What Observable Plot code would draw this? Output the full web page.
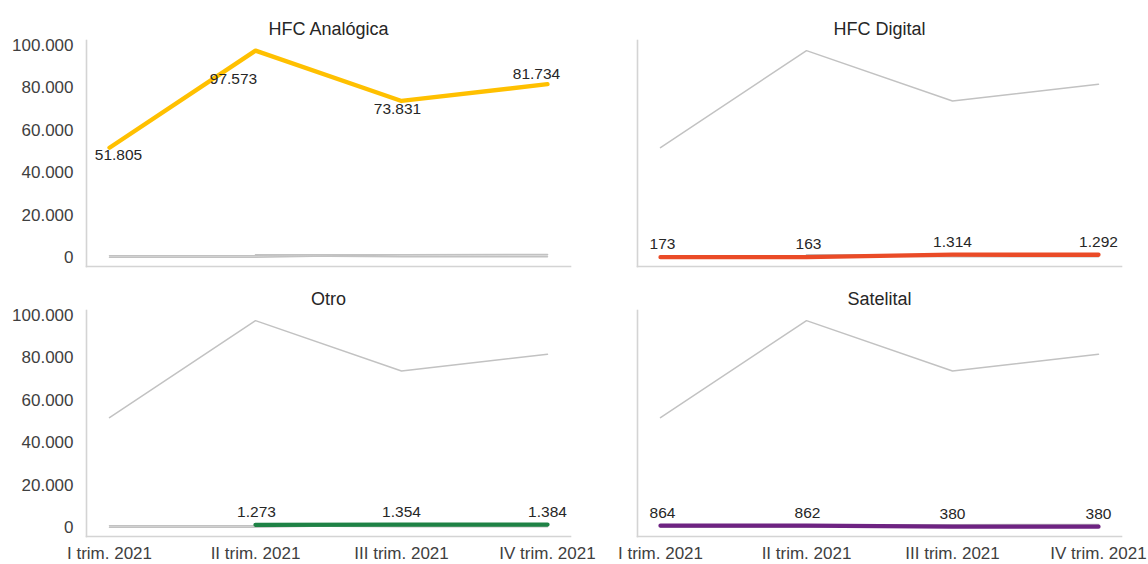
<!DOCTYPE html>
<html>
<head>
<meta charset="utf-8">
<script src="https://cdn.jsdelivr.net/npm/d3@7"></script>
<script src="https://cdn.jsdelivr.net/npm/@observablehq/plot@0.6"></script>
<style>
  html, body { margin: 0; padding: 0; background: #fff; }
  #chart { position: relative; width: 1148px; height: 564px; overflow: hidden; font-family: "Liberation Sans", Arial, sans-serif; }
  .panel { position: absolute; }
</style>
</head>
<body>
<div id="chart"></div>
<script>
// ---- Data ----
const quarters = ["I trim. 2021", "II trim. 2021", "III trim. 2021", "IV trim. 2021"];
const seriesNames = ["HFC Analógica", "HFC Digital", "Otro", "Satelital"];
const hfcAnalogica = [51805, 97573, 73831, 81734];
const hfcDigital = [173, 163, 1314, 1292];
const otro = [null, 1273, 1354, 1384];
const satelital = [864, 862, 380, 380];
const yTicks = [0, 20000, 40000, 60000, 80000, 100000];

const seriesValues = {
  "HFC Analógica": hfcAnalogica,
  "HFC Digital": hfcDigital,
  "Otro": otro,
  "Satelital": satelital
};

const rows = seriesNames.flatMap(s =>
  quarters.map((q, i) => ({series: s, quarter: q, value: seriesValues[s][i]}))
          .filter(d => d.value != null)
);

const locale = d3.formatLocale({decimal: ",", thousands: ".", grouping: [3], currency: ["", "€"]});
const fmt = locale.format(",d");

// ---- Styling / layout ----
const colors = {
  "HFC Analógica": "#FFC000",
  "HFC Digital": "#EA4B27",
  "Otro": "#1E8245",
  "Satelital": "#6E2382"
};
// label offsets (dx, dy) relative to each point
const labelOffsets = {
  "HFC Analógica": [[9, 7], [-22, 28], [-4, 8], [-11, -10]],
  "HFC Digital": [[2, -13], [2, -13], [0, -13], [0, -13]],
  "Otro": [[0, -13], [1, -13], [0, -13], [0, -13]],
  "Satelital": [[2, -13], [1, -13], [0, -13], [0, -13]]
};

const panels = [
  {name: "HFC Analógica", left: 0,   top: 0,   width: 600, height: 270, ml: 86, mr: 30, showY: true,  showX: false},
  {name: "HFC Digital",   left: 560, top: 0,   width: 588, height: 270, ml: 77, mr: 27, showY: false, showX: false},
  {name: "Otro",          left: 0,   top: 270, width: 600, height: 294, ml: 86, mr: 30, showY: true,  showX: true},
  {name: "Satelital",     left: 560, top: 270, width: 588, height: 294, ml: 77, mr: 27, showY: false, showX: true}
];

const chart = document.getElementById("chart");

for (const p of panels) {
  const own = rows.filter(d => d.series === p.name);
  const others = rows.filter(d => d.series !== p.name);
  const offs = labelOffsets[p.name];
  const labelMarks = own.map(d => {
    const i = quarters.indexOf(d.quarter);
    return Plot.text([d], {
      x: "quarter", y: "value", text: d => fmt(d.value),
      dx: offs[i][0], dy: offs[i][1],
      fontSize: 15.5, fill: "#262626"
    });
  });
  const svg = Plot.plot({
    width: p.width,
    height: p.height,
    marginTop: 40,
    marginBottom: p.showX ? 28 : 4,
    marginLeft: p.ml,
    marginRight: p.mr,
    style: {fontFamily: "'Liberation Sans', Arial, sans-serif", fontSize: "17px", color: "#404040", background: "transparent", overflow: "visible"},
    x: {type: "point", domain: quarters, padding: 0.15, axis: p.showX ? "bottom" : null, tickSize: 0, tickPadding: 10.5, label: null},
    y: {domain: [0, 100000], insetTop: 5, insetBottom: 9, ticks: yTicks, tickFormat: fmt, axis: p.showY ? "left" : null, tickSize: 0, tickPadding: 13, label: null},
    marks: [
      Plot.frame({anchor: "left", stroke: "#d4d4d4", strokeWidth: 1.6}),
      Plot.frame({anchor: "bottom", stroke: "#d4d4d4", strokeWidth: 1.6}),
      Plot.line(others, {x: "quarter", y: "value", z: "series", stroke: "#c2c2c2", strokeWidth: 1.5}),
      Plot.line(own, {x: "quarter", y: "value", stroke: colors[p.name], strokeWidth: 4.3, strokeLinecap: "round", strokeLinejoin: "round"}),
      ...labelMarks,
      Plot.text([p.name], {text: d => d, frameAnchor: "top", dy: -18, fontSize: 18, fill: "#262626"})
    ]
  });
  const div = document.createElement("div");
  div.className = "panel";
  div.style.left = p.left + "px";
  div.style.top = p.top + "px";
  div.style.width = p.width + "px";
  div.style.height = p.height + "px";
  div.appendChild(svg);
  chart.appendChild(div);
}
</script>
</body>
</html>
